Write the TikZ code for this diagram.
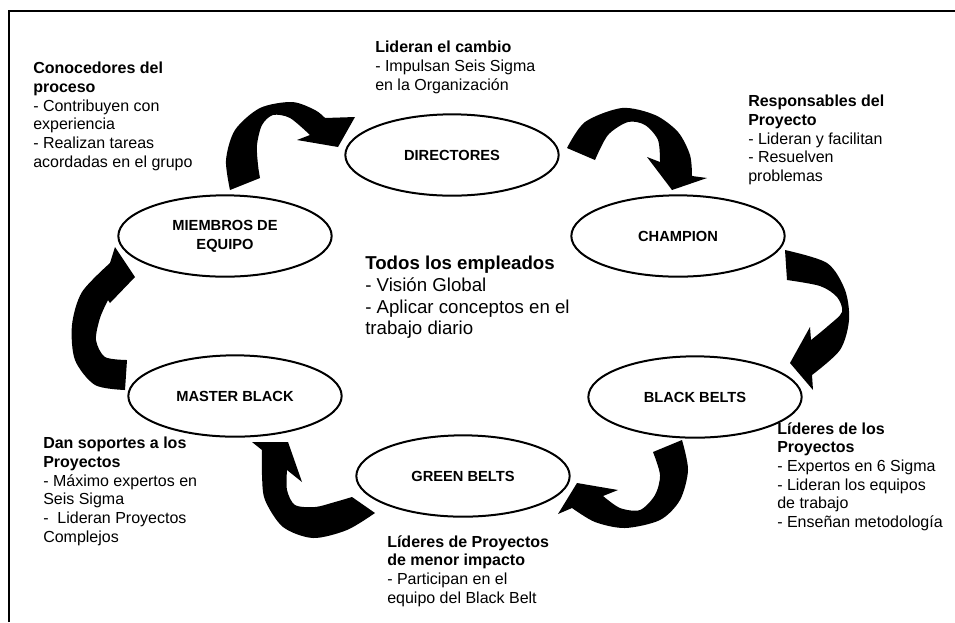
\documentclass[tikz,border=0pt]{standalone}
\usepackage{fontspec}
\setmainfont{Liberation Sans}
\usetikzlibrary{shapes.geometric}
\begin{document}
\begin{tikzpicture}[x=0.75pt,y=-0.75pt,
  role/.style={draw, ellipse, line width=1.5pt, minimum width=160pt, minimum height=61pt,
    inner sep=0pt, align=center, font=\bfseries\fontsize{11}{14}\selectfont},
  note/.style={anchor=north west, inner sep=0pt, align=left, font=\fontsize{12}{14}\selectfont},
  bignote/.style={note, font=\fontsize{14}{16.2}\selectfont},
  blockarrow/.style={fill=black},
  frame/.style={line width=1.5pt, line join=miter}]
\useasboundingbox (0,0) rectangle (955,622);
\draw[frame] (9,622) -- (9,11) -- (955,11);

% roles
\node[role] (dir) at (452,155) {DIRECTORES};
\node[role] (cha) at (678,236) {CHAMPION};
\node[role] (mie) at (225,236) {MIEMBROS DE\\EQUIPO};
\node[role] (mas) at (235,396) {MASTER BLACK};
\node[role] (bla) at (695,397) {BLACK BELTS};
\node[role] (gre) at (463,476) {GREEN BELTS};

% curved block arrows
\fill[blockarrow] plot[smooth] coordinates {(230,190) (226,160) (235,130) (260,108) (292,102) (315,110) (325,118)}
  -- (355,117) -- (338,147) -- (297,140)
  -- plot[smooth] coordinates {(310,135) (290,118) (273,115) (262,125) (257,145) (258,165) (260,178)} -- cycle;
\fill[blockarrow] plot[smooth] coordinates {(567,148) (585,122) (622,108) (655,115) (678,132) (690,155) (692,176)}
  -- (707,178) -- (672,190) -- (647,157)
  -- plot[smooth] coordinates {(660,162) (658,140) (645,125) (628,122) (608,135) (595,160)} -- cycle;
\fill[blockarrow] plot[smooth] coordinates {(785,250) (827,263) (845,290) (849,320) (840,350) (812,375)}
  -- (813,390) -- (790,363) -- (810,327)
  -- plot[smooth] coordinates {(811,340) (828,326) (842,312) (837,297) (820,286) (787,280)} -- cycle;
\fill[blockarrow] plot[smooth] coordinates {(682,440) (688,470) (680,500) (660,520) (625,528) (595,522) (572,508)}
  -- (558,514) -- (577,483) -- (618,490)
  -- plot[smooth] coordinates {(603,496) (620,508) (640,510) (655,495) (660,475) (653,452)} -- cycle;
\fill[blockarrow] plot[smooth] coordinates {(375,513) (347,530) (313,538) (283,527) (265,500) (262,475) (262,450)}
  -- (252,442) -- (288,442) -- (302,482)
  -- plot[smooth] coordinates {(287,470) (287,490) (295,505) (315,507) (335,502) (352,497)} -- cycle;
\fill[blockarrow] plot[smooth] coordinates {(125,390) (95,385) (75,360) (72,325) (82,292) (110,263)}
  -- (115,247) -- (135,277) -- (110,303)
  -- plot[smooth] coordinates {(108,300) (100,318) (96,340) (105,357) (127,360)} -- cycle;

% notes
\node[note] (t1) at (33,62) {\textbf{Conocedores del}\\\textbf{proceso}\\- Contribuyen con\\experiencia\\- Realizan tareas\\acordadas en el grupo};
\node[note] (t2) at (375,41) {\textbf{Lideran el cambio}\\- Impulsan Seis Sigma\\en la Organización};
\node[note] (t3) at (748,95) {\textbf{Responsables del}\\\textbf{Proyecto}\\- Lideran y facilitan\\- Resuelven\\problemas};
\node[bignote] (t4) at (365,256) {\textbf{Todos los empleados}\\- Visión Global\\- Aplicar conceptos en el\\trabajo diario};
\node[note] (t5) at (777,422) {\textbf{Líderes de los}\\\textbf{Proyectos}\\- Expertos en 6 Sigma\\- Lideran los equipos\\de trabajo\\- Enseñan metodología};
\node[note] (t6) at (43,437) {\textbf{Dan soportes a los}\\\textbf{Proyectos}\\- Máximo expertos en\\Seis Sigma\\-~ Lideran Proyectos\\Complejos};
\node[note] (t7) at (387,535) {\textbf{Líderes de Proyectos}\\\textbf{de menor impacto}\\- Participan en el\\equipo del Black Belt};
\end{tikzpicture}
\end{document}
